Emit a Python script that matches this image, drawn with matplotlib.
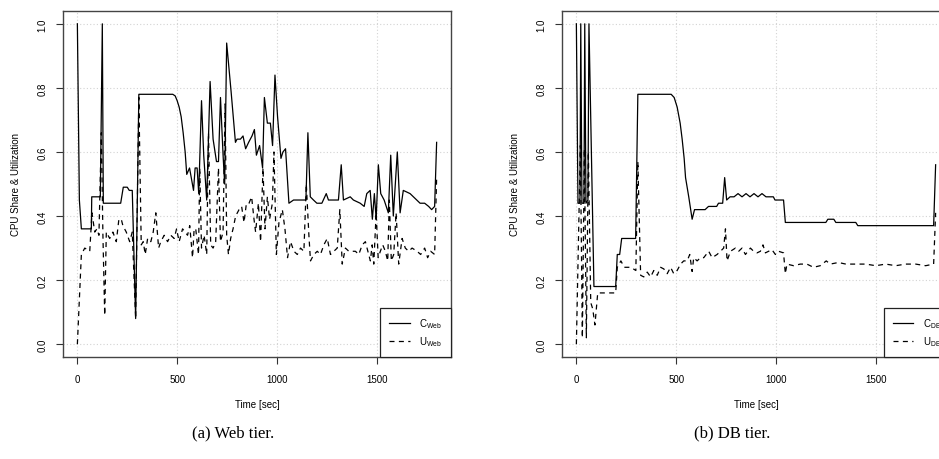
import matplotlib
matplotlib.use('Agg')
import matplotlib.pyplot as plt
import numpy as np

plt.rcParams['font.family'] = ['Liberation Sans', 'DejaVu Sans']
plt.rcParams['mathtext.fontset'] = 'custom'
plt.rcParams['mathtext.rm'] = 'Liberation Sans'

# Web tier: CPU share (solid) and utilization (dashed)
web_share_t = [0, 10, 20, 70, 72, 115, 125, 130, 217, 230, 250, 260, 275, 292, 308,
               478, 490, 500, 510, 520, 530, 540, 548, 562, 582, 590, 600, 608, 622,
               633, 648, 665, 680, 697, 707, 717, 730, 738, 748, 770, 792, 800, 817,
               830, 843, 858, 875, 887, 897, 913, 928, 937, 952, 967, 978, 990, 1003,
               1020, 1030, 1043, 1060, 1083, 1145, 1155, 1167, 1183, 1200, 1225, 1247,
               1258, 1308, 1322, 1333, 1367, 1383, 1417, 1437, 1450, 1467, 1478, 1488,
               1497, 1508, 1520, 1537, 1558, 1570, 1583, 1603, 1617, 1633, 1667, 1717,
               1740, 1760, 1775, 1790, 1800]
web_share = [1.0, 0.45, 0.36, 0.36, 0.46, 0.46, 1.0, 0.44, 0.44, 0.49, 0.49, 0.48, 0.48, 0.08, 0.78,
             0.78, 0.775, 0.76, 0.74, 0.71, 0.66, 0.60, 0.53, 0.55, 0.48, 0.55, 0.55, 0.47, 0.76,
             0.59, 0.45, 0.82, 0.64, 0.57, 0.57, 0.77, 0.59, 0.50, 0.94, 0.79, 0.63, 0.64, 0.64,
             0.65, 0.61, 0.63, 0.65, 0.67, 0.59, 0.62, 0.55, 0.77, 0.69, 0.69, 0.62, 0.84, 0.71,
             0.58, 0.60, 0.61, 0.44, 0.45, 0.45, 0.66, 0.46, 0.45, 0.44, 0.44, 0.47,
             0.45, 0.45, 0.56, 0.45, 0.46, 0.45, 0.44, 0.43, 0.47, 0.48, 0.39, 0.47,
             0.39, 0.56, 0.47, 0.45, 0.41, 0.59, 0.40, 0.60, 0.41, 0.48, 0.47, 0.44,
             0.44, 0.43, 0.42, 0.43, 0.63]

web_util_t = [0, 20, 37, 62, 73, 87, 98, 108, 120, 128, 137, 145, 162, 178, 195, 208, 220,
              228, 245, 262, 275, 292, 308, 320, 330, 340, 352, 368, 380, 393, 407, 418,
              435, 452, 468, 485, 497, 510, 527, 540, 552, 563, 577, 585, 593, 607, 613,
              622, 635, 648, 657, 668, 680, 693, 707, 717, 730, 740, 748, 757, 768, 780,
              793, 810, 823, 835, 847, 860, 873, 885, 893, 907, 918, 930, 940, 952, 963,
              977, 985, 997, 1010, 1027, 1040, 1053, 1068, 1085, 1102, 1118, 1135, 1147,
              1160, 1168, 1185, 1202, 1218, 1235, 1252, 1268, 1285, 1302, 1315, 1327,
              1343, 1360, 1377, 1393, 1410, 1427, 1443, 1460, 1468, 1477, 1485, 1497,
              1507, 1518, 1530, 1543, 1555, 1563, 1573, 1585, 1597, 1610, 1627, 1643,
              1660, 1677, 1702, 1720, 1740, 1755, 1770, 1790, 1800]
web_util = [0.0, 0.28, 0.30, 0.29, 0.41, 0.35, 0.36, 0.34, 0.66, 0.34, 0.09, 0.35, 0.33, 0.35, 0.32, 0.39, 0.39,
            0.37, 0.35, 0.32, 0.35, 0.08, 0.77, 0.31, 0.32, 0.28, 0.33, 0.32, 0.35, 0.41, 0.30, 0.32,
            0.34, 0.32, 0.34, 0.33, 0.36, 0.32, 0.36, 0.35, 0.34, 0.37, 0.27, 0.36, 0.36, 0.28, 0.55,
            0.30, 0.34, 0.28, 0.66, 0.31, 0.30, 0.32, 0.55, 0.32, 0.35, 0.75, 0.34, 0.28, 0.33, 0.36,
            0.40, 0.42, 0.43, 0.38, 0.44, 0.44, 0.46, 0.39, 0.35, 0.44, 0.32, 0.55, 0.36, 0.46, 0.39,
            0.44, 0.60, 0.28, 0.38, 0.42, 0.36, 0.27, 0.32, 0.29, 0.28, 0.30, 0.29, 0.50,
            0.34, 0.26, 0.28, 0.29, 0.28, 0.31, 0.33, 0.28, 0.29, 0.30, 0.42, 0.25,
            0.30, 0.29, 0.29, 0.29, 0.28, 0.31, 0.32, 0.28, 0.26, 0.31, 0.25, 0.41,
            0.27, 0.29, 0.31, 0.29, 0.26, 0.45, 0.26, 0.28, 0.41, 0.25, 0.33, 0.30,
            0.29, 0.30, 0.29, 0.28, 0.30, 0.27, 0.29, 0.28, 0.52]

# DB tier
db_share_t = [0, 8, 18, 22, 28, 38, 42, 48, 58, 63, 88, 197, 205, 217, 227, 297, 308,
              475, 490, 505, 520, 530, 540, 547, 555, 563, 580, 592, 645, 662, 703, 712,
              733, 743, 753, 770, 790, 810, 830, 850, 870, 890, 910, 930, 950, 970, 987,
              995, 1038, 1047, 1250, 1260, 1290, 1300, 1320, 1330, 1400, 1410, 1790, 1800]
db_share = [1.0, 0.44, 0.44, 1.0, 0.44, 0.44, 1.0, 0.44, 0.45, 1.0, 0.18, 0.18, 0.28, 0.28, 0.33, 0.33, 0.78,
            0.78, 0.77, 0.74, 0.69, 0.64, 0.58, 0.52, 0.49, 0.46, 0.39, 0.42, 0.42, 0.43, 0.43, 0.44,
            0.44, 0.52, 0.45, 0.46, 0.46, 0.47, 0.46, 0.47, 0.46, 0.47, 0.46, 0.47, 0.46, 0.46, 0.46,
            0.45, 0.45, 0.38, 0.38, 0.39, 0.39, 0.38, 0.38, 0.38, 0.38, 0.37, 0.37, 0.56]

db_util_t = [0, 20, 30, 40, 50, 60, 72, 82, 93, 107, 197, 205, 223, 240, 273, 298, 308,
             322, 338, 355, 372, 388, 405, 422, 438, 455, 472, 488, 505, 522, 538, 555,
             568, 580, 588, 605, 622, 638, 663, 680, 705, 722, 738, 747, 755, 772, 797,
             813, 830, 847, 872, 888, 905, 922, 935, 947, 963, 980, 997, 1013, 1038,
             1047, 1055, 1088, 1122, 1155, 1188, 1222, 1252, 1272, 1313, 1350, 1400,
             1450, 1500, 1550, 1600, 1650, 1700, 1750, 1790, 1800]
db_util = [0.0, 0.62, 0.02, 0.61, 0.02, 0.60, 0.13, 0.11, 0.06, 0.16, 0.16, 0.24, 0.26, 0.24, 0.24, 0.23, 0.57,
           0.215, 0.21, 0.225, 0.21, 0.23, 0.215, 0.24, 0.235, 0.22, 0.24, 0.22, 0.23, 0.25, 0.26, 0.26,
           0.28, 0.227, 0.27, 0.26, 0.27, 0.27, 0.29, 0.27, 0.28, 0.29, 0.30, 0.36, 0.26, 0.29, 0.30,
           0.29, 0.30, 0.28, 0.30, 0.29, 0.285, 0.29, 0.31, 0.285, 0.29, 0.295, 0.28, 0.29, 0.285,
           0.22, 0.25, 0.245, 0.25, 0.25, 0.24, 0.245, 0.26, 0.25, 0.255, 0.25, 0.25,
           0.25, 0.245, 0.25, 0.245, 0.25, 0.25, 0.245, 0.25, 0.41]

x_ticks = [0, 500, 1000, 1500]
y_ticks = [0.0, 0.2, 0.4, 0.6, 0.8, 1.0]
y_tick_labels = ['0.0', '0.2', '0.4', '0.6', '0.8', '1.0']

panels = [
    (web_share_t, web_share, web_util_t, web_util, 'Web', '(a) Web tier.', 63),
    (db_share_t, db_share, db_util_t, db_util, 'DB', '(b) DB tier.', 562),
]

W, H = 939, 460
fig = plt.figure(figsize=(W / 100, H / 100), dpi=100)

for st, sv, ut, uv, tier, caption, left_px in panels:
    ax = fig.add_axes([left_px / W, (H - 358) / H, 388 / W, 346 / H])
    ax.plot(st, sv, color='black', lw=0.9, label=r'C$_{\rm %s}$' % tier)
    ax.plot(ut, uv, color='black', lw=0.9, linestyle=(0, (4, 3.5)),
            label=r'U$_{\rm %s}$' % tier)
    ax.set_xlim(-72, 1872)
    ax.set_ylim(-0.04, 1.04)
    ax.set_xticks(x_ticks)
    ax.set_yticks(y_ticks)
    ax.set_yticklabels(y_tick_labels, rotation=90, va='center')
    ax.tick_params(axis='both', direction='out', length=5, width=0.8,
                   color='#333333', labelsize=7)
    ax.tick_params(axis='x', pad=7)
    ax.tick_params(axis='y', pad=6)
    for s in ax.spines.values():
        s.set_color('#444444')
        s.set_linewidth(1.0)
    ax.grid(True, color='#d3d3d3', linestyle=(0, (1, 2)), linewidth=0.8)
    ax.set_axisbelow(True)
    ax.set_xlabel('Time [sec]', fontsize=7)
    ax.set_ylabel('CPU Share & Utilization', fontsize=7)
    ax.xaxis.set_label_coords(0.5, -0.122)
    ax.yaxis.set_label_coords(-0.108, 0.5)
    leg = ax.legend(loc='lower right', bbox_to_anchor=(1, 0), borderaxespad=0,
                    fancybox=False, framealpha=1, edgecolor='#222222', fontsize=7,
                    handlelength=2.1, handletextpad=1.0, borderpad=0.9,
                    labelspacing=0.45)
    leg.get_frame().set_linewidth(0.9)
    fig.text((left_px + 170) / W, 1 - 433 / H, caption, ha='center', va='center',
             fontsize=12, family=['Liberation Serif', 'DejaVu Serif'])

fig.savefig('out.png', dpi=100)
